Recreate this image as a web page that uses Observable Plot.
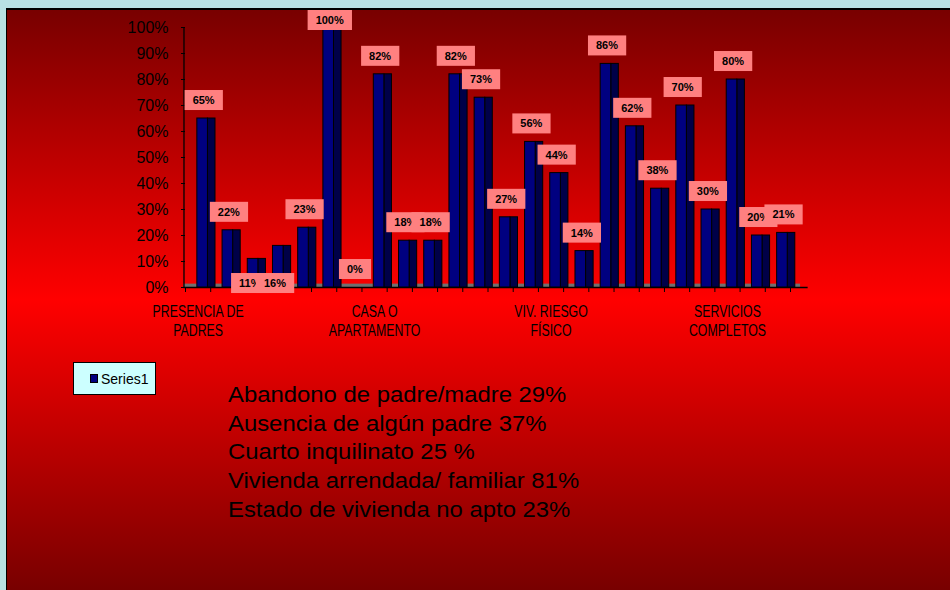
<!DOCTYPE html>
<html>
<head>
<meta charset="utf-8">
<script src="https://cdn.jsdelivr.net/npm/d3@7"></script>
<script src="https://cdn.jsdelivr.net/npm/@observablehq/plot@0.6"></script>
<style>
  html, body { margin: 0; padding: 0; }
  body { width: 950px; height: 590px; overflow: hidden; background: #b9e1e4; position: relative; font-family: "Liberation Sans", Arial, sans-serif; }
  #frame { position: absolute; left: 6px; top: 8px; right: 0; bottom: 0;
    border-top: 2px solid #000; border-left: 1px solid #000;
    background: linear-gradient(to bottom, #780000 0%, #ff0000 50%, #780000 100%); }
  #chart { position: absolute; left: 0; top: 0; }
  #legend { position: absolute; left: 73px; top: 362px; width: 83px; height: 33px; box-sizing: border-box;
    background: #ccffff; border: 1.5px solid #000; display: flex; align-items: center; padding-left: 16px;
    font: 14px "Liberation Sans", Arial, sans-serif; color: #000; }
  #legend .sw { display: inline-block; width: 6px; height: 7px; background: #000080; border: 0.5px solid #000; margin-right: 3px; }
  #notes { position: absolute; left: 228px; top: 381px; font: 21.5px/28.7px "Liberation Sans", Arial, sans-serif; color: #000;
    transform: scaleX(1.11); transform-origin: left top; white-space: nowrap; }
</style>
</head>
<body>
<div id="frame"></div>
<div id="chart"></div>
<div id="legend"><span class="sw"></span><span id="legendText"></span></div>
<div id="notes"></div>
<script>
// ---- data ----
const values = [65, 22, 11, 16, 23, 100, 0, 82, 18, 18, 82, 73, 27, 56, 44, 14, 86, 62, 38, 70, 30, 80, 20, 21];
const labeledIndex = [0, 7, 14, 21];
const categoryLabels = ["PRESENCIA DE\nPADRES", "CASA O\nAPARTAMENTO", "VIV. RIESGO\nFÍSICO", "SERVICIOS\nCOMPLETOS"];
const yTicks = [0, 10, 20, 30, 40, 50, 60, 70, 80, 90, 100];
const seriesName = "Series1";
const notes = [
  "Abandono de padre/madre 29%",
  "Ausencia de algún padre 37%",
  "Cuarto inquilinato 25 %",
  "Vivienda arrendada/ familiar 81%",
  "Estado de vivienda no apto 23%"
];

const rows = values.map((v, i) => ({ i, v, label: v + "%" }));
// labels that the original placed at the base of the bar
const baseLabelSet = new Set([2, 3]);
const topRows = rows.filter(d => !baseLabelSet.has(d.i));
const baseRows = rows.filter(d => baseLabelSet.has(d.i));
const tickMap = new Map(labeledIndex.map((k, j) => [k + 0.5, categoryLabels[j]]));

const chart = Plot.plot({
  width: 950,
  height: 350,
  marginLeft: 185,
  marginRight: 160,
  marginTop: 27,
  marginBottom: 63,
  style: { background: "transparent", fontFamily: "Liberation Sans, Arial, sans-serif", color: "#000", overflow: "visible" },
  x: { type: "linear", domain: [0, values.length], axis: null, label: null },
  y: { domain: [0, 100], axis: null, label: null },
  marks: [
    // 3D floor
    Plot.rect([0], { x1: () => -0.06, x2: () => values.length + 0.4, y1: () => 0, y2: () => 1.3, fill: "#707070" }),
    Plot.ruleY([0], { x1: () => -0.06, x2: () => values.length + 0.7, stroke: "#000", strokeWidth: 1.3 }),
    Plot.ruleX([-0.06], { y1: () => 0, y2: () => 100, stroke: "#000", strokeWidth: 1.3 }),
    Plot.axisY({ ticks: yTicks, tickFormat: d => d + "%", tickSize: 4, tickPadding: 13, fontSize: 16, anchor: "left", stroke: "#000", label: null }),
    Plot.axisX({ ticks: d3.range(values.length + 1), tickSize: 5, tickFormat: () => "", anchor: "bottom", stroke: "#000", label: null }),
    Plot.axisX({ ticks: [...tickMap.keys()], tickFormat: d => tickMap.get(d), tickSize: 0, tickPadding: 16,
      fontSize: 16, lineHeight: 1.19, anchor: "bottom", label: null }),
    // bar side (3D depth)
    Plot.rectY(rows, { x1: d => d.i + 0.89, x2: d => d.i + 1.19, y1: () => 0, y2: "v", fill: "#000048", stroke: "#000", strokeWidth: 1 }),
    // bar front
    Plot.rectY(rows, { x1: d => d.i + 0.47, x2: d => d.i + 0.89, y1: () => 0, y2: "v", fill: "#000080", stroke: "#000", strokeWidth: 1 }),
    // value labels
    Plot.text(topRows, { x: d => d.i + 0.72, y: "v", text: "label", dy: -18, fontWeight: "bold", fontSize: 11, fill: "#000" }),
    Plot.text(baseRows, { x: d => d.i + 0.55, y: () => 0, text: "label", dy: -4, fontWeight: "bold", fontSize: 11, fill: "#000" })
  ]
});
document.getElementById("chart").appendChild(chart);

const allTexts = [...chart.querySelectorAll("text")];
// condensed category labels (the original uses a narrow face)
allTexts.filter(t => /[A-Z]{3}/.test(t.textContent)).forEach(t => {
  const tr = t.getAttribute("transform") || "";
  t.setAttribute("transform", tr + " scale(0.77,1)");
});
// pink boxes behind value labels
const svgTop = chart.getBoundingClientRect().top;
allTexts.filter(t => t.closest('[font-weight="bold"]')).forEach(t => {
  const bb = t.getBBox();
  const cy = bb.y + bb.height / 2;
  const cr = t.getBoundingClientRect();
  const absCenter = cr.top + cr.height / 2 - svgTop;
  let shift = 0;
  if (absCenter - 10 < 10) shift = 20 - absCenter;
  const tr = (t.getAttribute("transform") || "") + (shift ? ` translate(0,${shift})` : "");
  const r = document.createElementNS("http://www.w3.org/2000/svg", "rect");
  r.setAttribute("x", bb.x - 8);
  r.setAttribute("y", cy - 10);
  r.setAttribute("width", bb.width + 16);
  r.setAttribute("height", 20);
  r.setAttribute("fill", "#ff8080");
  if (tr) { r.setAttribute("transform", tr); t.setAttribute("transform", tr); }
  t.parentNode.insertBefore(r, t);
});

document.getElementById("legendText").textContent = seriesName;
document.getElementById("notes").innerHTML = notes.map(n => `<div>${n}</div>`).join("");
</script>
</body>
</html>
